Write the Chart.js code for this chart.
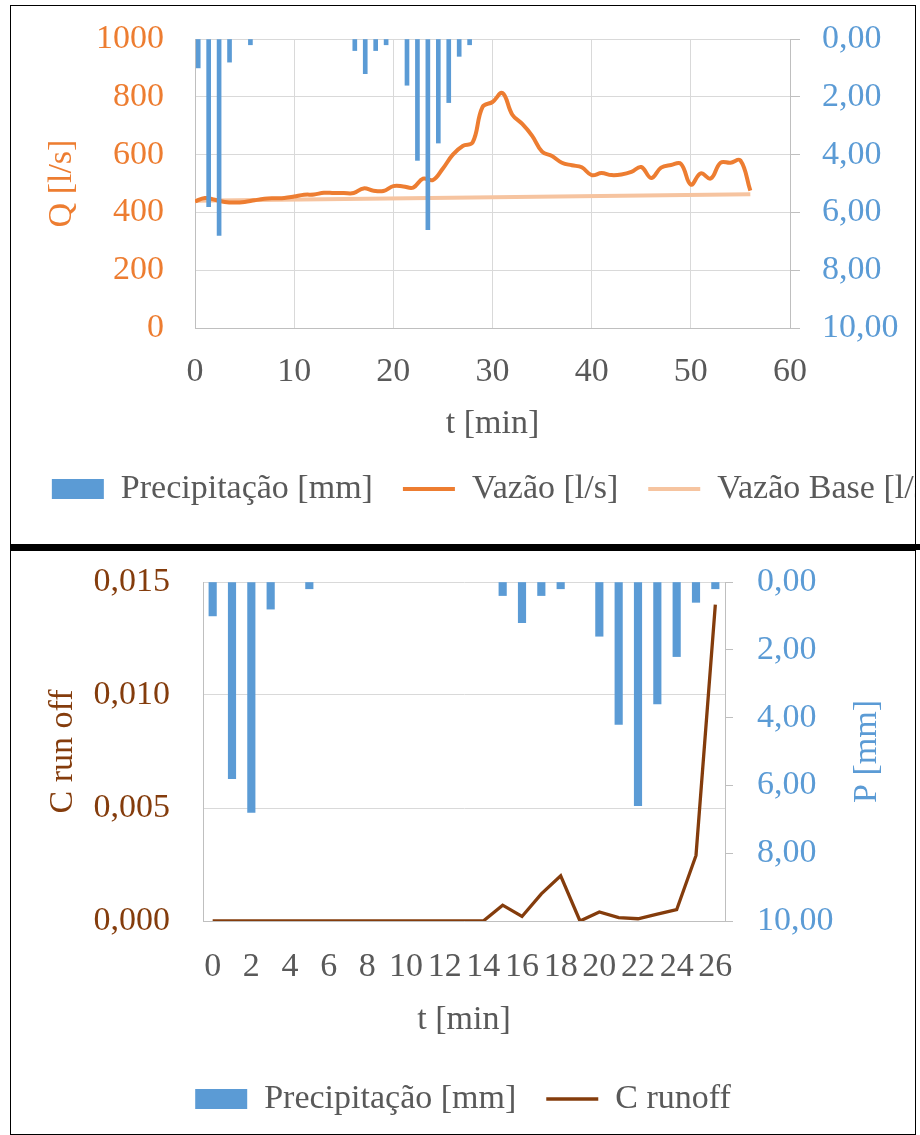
<!DOCTYPE html>
<html lang="pt-BR">
<head>
<meta charset="UTF-8">
<title>Precipitação x Vazão</title>
<script src="https://cdn.jsdelivr.net/npm/chart.js@4.4.1/dist/chart.umd.min.js"></script>
<style>
  html, body { margin: 0; padding: 0; background: #fff; }
  body { width: 920px; height: 1135px; position: relative; overflow: hidden; }
  .quadro { position: absolute; left: 10px; width: 904px; border: 1px solid #000; overflow: hidden; background: #fff; }
  #quadro1 { top: 5px; height: 538px; }
  #quadro2 { top: 550px; height: 583px; }
  #separador { position: absolute; left: 10px; top: 544px; width: 910px; height: 6px; background: #000; }
  canvas { position: absolute; left: 0; top: 0; }
</style>
</head>
<body>
<div class="quadro" id="quadro1"><canvas id="graficoVazao" width="968" height="538"></canvas></div>
<div id="separador"></div>
<div class="quadro" id="quadro2"><canvas id="graficoRunoff" width="904" height="583"></canvas></div>

<script>
// Dados (uma leitura por minuto)
const tempo = [0, 1, 2, 3, 4, 5, 6, 7, 8, 9, 10, 11, 12, 13, 14, 15, 16, 17, 18, 19,
  20, 21, 22, 23, 24, 25, 26, 27, 28, 29, 30, 31, 32, 33, 34, 35, 36, 37, 38, 39,
  40, 41, 42, 43, 44, 45, 46, 47, 48, 49, 50, 51, 52, 53, 54, 55, 56];

// Precipitação [mm]
const precipitacao = [1.0, 5.8, 6.8, 0.8, 0, 0.2, 0, 0, 0, 0,
  0, 0, 0, 0, 0, 0.4, 1.2, 0.4, 0.2, 0,
  1.6, 4.2, 6.6, 3.6, 2.2, 0.6, 0.2, 0, 0, 0,
  0, 0, 0, 0, 0, 0, 0, 0, 0, 0,
  0, 0, 0, 0, 0, 0, 0, 0, 0, 0,
  0, 0, 0, 0, 0, 0, 0];

// Vazão [l/s]
const vazao = [438, 450, 444, 436, 434, 436, 442, 447, 449, 450,
  455, 461, 462, 468, 467, 467, 467, 483, 475, 474,
  491, 490, 486, 517, 512, 552, 600, 630, 642, 765,
  782, 813, 738, 706, 665, 610, 595, 572, 563, 556,
  529, 536, 529, 531, 540, 557, 519, 555, 564, 568,
  496, 535, 517, 572, 572, 580, 475];

// Vazão base (reta)
const tempoBase = [0, 56];
const vazaoBase = [440, 463];

// Segundo gráfico: só os 27 primeiros minutos
const tempoRunoff = tempo.slice(0, 27);
const precipRunoff = precipitacao.slice(0, 27);
const cRunoff = [0, 0, 0, 0, 0, 0, 0, 0, 0, 0,
  0, 0, 0, 0, 0, 0.0007, 0.0002, 0.0012, 0.0020, 0.0000,
  0.0004, 0.00015, 0.0001, 0.0003, 0.0005, 0.0029, 0.0140];

// Cores (paleta do Excel)
const AZUL = '#5B9BD5';
const LARANJA = '#ED7D31';
const PESSEGO = '#F6C4A0';
const MARROM = '#843C0C';
const CINZA_TEXTO = '#595959';
const CINZA_GRADE = '#D9D9D9';
const CINZA_EIXO = '#BFBFBF';
const FONTE = '"Liberation Serif", "Times New Roman", serif';

Chart.defaults.font.family = FONTE;

function fonte(tam) {
  return { family: FONTE, size: tam, lineHeight: 1 };
}

function virgula(v, casas) {
  return Number(v).toFixed(casas).replace('.', ',');
}

// minuto sem chuva não desenha barra nenhuma
function semZeros(lista) {
  return lista.map(v => (v === 0 ? null : v));
}

// eixo vertical com largura fixa e sem a folga extra que o Chart.js põe em cima/baixo
function larguraFixa(largura) {
  return s => {
    s.width = largura;
    s.paddingTop = 0;
    s.paddingBottom = 0;
  };
}

// Legenda: retângulo para barras, traço para linhas
function legendaComLinhas(chart) {
  const itens = Chart.defaults.plugins.legend.labels.generateLabels(chart);
  itens.forEach(item => {
    const ds = chart.data.datasets[item.datasetIndex];
    if (ds.type === 'line') {
      item.pointStyle = 'line';
      item.lineWidth = ds.borderWidth;
      item.strokeStyle = ds.borderColor;
    } else {
      item.pointStyle = 'rect';
    }
  });
  return itens;
}

function legenda() {
  return {
    position: 'bottom',
    labels: {
      usePointStyle: true,
      pointStyleWidth: 52,
      boxHeight: 20,
      padding: 30,
      color: CINZA_TEXTO,
      font: fonte(34),
      generateLabels: legendaComLinhas
    }
  };
}

// Título do eixo P lido de baixo pra cima (o Chart.js gira ao contrário no eixo da direita)
const tituloDireita = {
  id: 'tituloDireita',
  afterDraw(chart, args, opts) {
    const eixo = chart.scales.yP;
    const ctx = chart.ctx;
    ctx.save();
    ctx.translate(eixo.left + opts.distancia, (eixo.top + eixo.bottom) / 2);
    ctx.rotate(-Math.PI / 2);
    ctx.font = '34px ' + FONTE;
    ctx.fillStyle = opts.cor;
    ctx.textAlign = 'center';
    ctx.textBaseline = 'middle';
    ctx.fillText(opts.texto, 0, 0);
    ctx.restore();
  }
};

// --- Gráfico 1: precipitação x vazão ---
new Chart(document.getElementById('graficoVazao'), {
  type: 'line',
  data: {
    labels: tempo.map(String),
    datasets: [
      {
        type: 'bar',
        label: 'Precipitação [mm]',
        data: semZeros(precipitacao),
        backgroundColor: AZUL,
        borderWidth: 0,
        barThickness: 4,
        xAxisID: 'xBarras',
        yAxisID: 'yP'
      },
      {
        type: 'line',
        label: 'Vazão [l/s]',
        data: tempo.map((t, i) => ({ x: t, y: vazao[i] })),
        borderColor: LARANJA,
        backgroundColor: LARANJA,
        borderWidth: 4,
        pointRadius: 0,
        tension: 0.4,
        xAxisID: 'x',
        yAxisID: 'y'
      },
      {
        type: 'line',
        label: 'Vazão Base [l/s]',
        data: tempoBase.map((t, i) => ({ x: t, y: vazaoBase[i] })),
        borderColor: PESSEGO,
        backgroundColor: PESSEGO,
        borderWidth: 4,
        pointRadius: 0,
        xAxisID: 'x',
        yAxisID: 'y'
      }
    ]
  },
  plugins: [tituloDireita],
  options: {
    responsive: false,
    animation: false,
    devicePixelRatio: 1,
    layout: { padding: { top: 33, bottom: 28, left: 0, right: 0 } },
    scales: {
      x: {
        type: 'linear',
        min: 0, max: 60,
        offset: false,
        ticks: { stepSize: 10, color: CINZA_TEXTO, font: fonte(34), padding: 27, maxRotation: 0 },
        grid: { color: CINZA_GRADE, drawTicks: false, offset: false },
        border: { color: CINZA_EIXO },
        title: { display: true, text: 't [min]', color: CINZA_TEXTO, font: fonte(34), padding: { top: 0, bottom: 1 } },
        afterFit: s => { s.height = 114; }
      },
      xBarras: { type: 'category', offset: true, display: false },
      y: {
        position: 'left',
        min: 0, max: 1000,
        ticks: { stepSize: 200, color: LARANJA, font: fonte(34), padding: 31, callback: v => String(v) },
        grid: { color: CINZA_GRADE, drawTicks: false },
        border: { color: CINZA_EIXO },
        title: { display: true, text: 'Q [l/s]', color: LARANJA, font: fonte(34), padding: { top: 34, bottom: 0 } },
        afterFit: larguraFixa(184)
      },
      yP: {
        position: 'right',
        reverse: true,
        min: 0, max: 10,
        ticks: { stepSize: 2, color: AZUL, font: fonte(34), padding: 22, callback: v => virgula(v, 2) },
        grid: { drawOnChartArea: false, color: CINZA_EIXO, tickLength: 10 },
        border: { color: CINZA_EIXO },
        afterFit: larguraFixa(189)
      }
    },
    plugins: {
      legend: legenda(),
      tooltip: { enabled: false },
      tituloDireita: { texto: 'P [mm]', cor: AZUL, distancia: 142 }
    }
  }
});

// --- Gráfico 2: C runoff ---
new Chart(document.getElementById('graficoRunoff'), {
  type: 'bar',
  data: {
    labels: tempoRunoff.map(String),
    datasets: [
      {
        label: 'Precipitação [mm]',
        data: semZeros(precipRunoff),
        backgroundColor: AZUL,
        borderWidth: 0,
        barThickness: 7.5,
        yAxisID: 'yP'
      },
      {
        type: 'line',
        label: 'C runoff',
        data: cRunoff,
        borderColor: MARROM,
        backgroundColor: MARROM,
        borderWidth: 3.3,
        pointRadius: 0,
        tension: 0,
        yAxisID: 'y'
      }
    ]
  },
  plugins: [tituloDireita],
  options: {
    responsive: false,
    animation: false,
    devicePixelRatio: 1,
    layout: { padding: { top: 31, bottom: 8, left: 0, right: 0 } },
    scales: {
      x: {
        type: 'category',
        offset: true,
        ticks: {
          autoSkip: false, maxRotation: 0, minRotation: 0,
          color: CINZA_TEXTO, font: fonte(34), padding: 29,
          callback: function (v, i) { return i % 2 === 0 ? this.getLabelForValue(v) : ''; }
        },
        grid: { drawOnChartArea: false, drawTicks: false },
        border: { color: CINZA_EIXO },
        title: { display: true, text: 't [min]', color: CINZA_TEXTO, font: fonte(34), padding: { top: 0, bottom: 15 } },
        afterFit: s => { s.height = 131; }
      },
      y: {
        position: 'left',
        min: 0, max: 0.015,
        ticks: { stepSize: 0.005, color: MARROM, font: fonte(34), padding: 33, callback: v => virgula(v, 3) },
        grid: { color: CINZA_GRADE, drawTicks: false },
        border: { color: CINZA_EIXO },
        title: { display: true, text: 'C run off', color: MARROM, font: fonte(34), padding: { top: 35, bottom: 0 } },
        afterFit: larguraFixa(192)
      },
      yP: {
        position: 'right',
        reverse: true,
        min: 0, max: 10,
        ticks: { stepSize: 2, color: AZUL, font: fonte(34), padding: 24, callback: v => virgula(v, 2) },
        grid: { drawOnChartArea: false, color: CINZA_EIXO, tickLength: 8 },
        border: { color: CINZA_EIXO },
        afterFit: larguraFixa(190)
      }
    },
    plugins: {
      legend: legenda(),
      tooltip: { enabled: false },
      tituloDireita: { texto: 'P [mm]', cor: AZUL, distancia: 142 }
    }
  }
});
</script>
</body>
</html>
